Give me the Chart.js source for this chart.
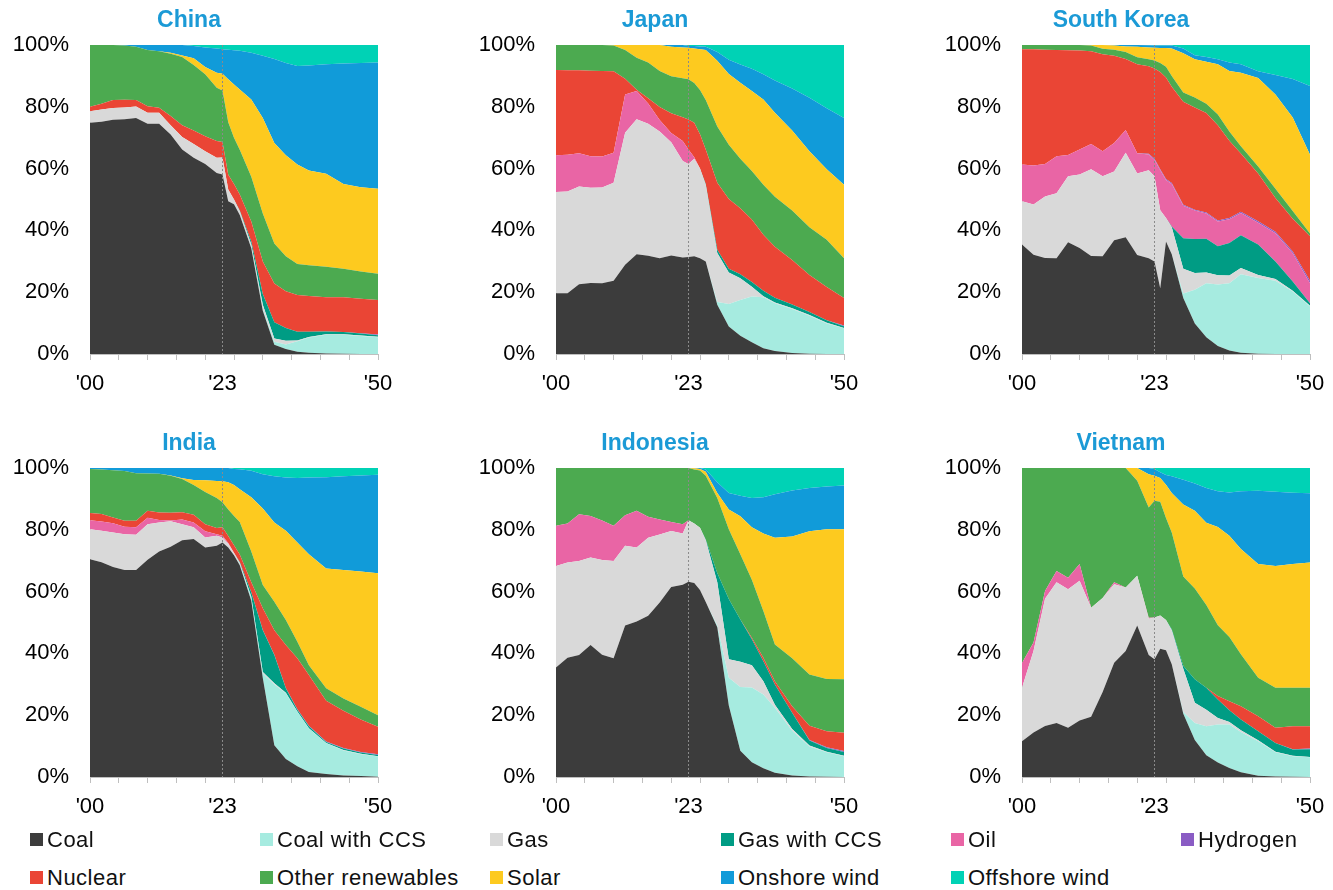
<!DOCTYPE html>
<html>
<head>
<meta charset="utf-8">
<script src="https://cdn.jsdelivr.net/npm/chart.js@4.4.0/dist/chart.umd.min.js"></script>
<style>
  body { margin: 0; background: #fff; font-family: "Liberation Sans", Arial, sans-serif; }
  #wrap { position: relative; width: 1333px; height: 890px; background: #fff; }
  #wrap canvas { position: absolute; }
  .key { position: absolute; font-size: 22px; letter-spacing: 0.5px; line-height: 26px; color: #111; white-space: nowrap; }
  .key i { display: inline-block; width: 13px; height: 13px; margin-right: 4px; vertical-align: 1px; }
</style>
</head>
<body>
<div id="wrap">
  <canvas id="c0" width="466" height="423" style="left:0px;top:0px"></canvas>
  <canvas id="c1" width="466" height="423" style="left:466px;top:0px"></canvas>
  <canvas id="c2" width="466" height="423" style="left:932px;top:0px"></canvas>
  <canvas id="c3" width="466" height="423" style="left:0px;top:423px"></canvas>
  <canvas id="c4" width="466" height="423" style="left:466px;top:423px"></canvas>
  <canvas id="c5" width="466" height="423" style="left:932px;top:423px"></canvas>
</div>

<script>
  // years shared by every panel
  const years = [2000, 2002, 2004, 2006, 2008, 2010, 2012, 2014, 2016, 2018, 2020, 2022, 2023,
    2024, 2025, 2026, 2028, 2030, 2032, 2034, 2036, 2038, 2041, 2044, 2047, 2050];

  // China (% of generation)
  const chinaCoal = [74.8, 75.2, 75.8, 76, 76.4, 74.5, 74.5, 71, 66.2, 63.5, 61.5, 58.6, 58.1, 49.4, 48.5, 45, 34.2, 14, 3, 1.6, 0.7, 0.4, 0.2, 0.1, 0, 0];
  const chinaCoalCcs = [0, 0, 0, 0, 0, 0, 0, 0, 0, 0, 0, 0, 0, 0, 0, 0, 0.2, 0.5, 1, 1.5, 3.4, 4.9, 6, 6.1, 5.8, 5.4];
  const chinaGas = [3.8, 3.9, 3.8, 3.8, 3.7, 3.6, 3.6, 3, 4, 4.5, 4.1, 4.9, 5.5, 3.8, 1.5, 1.2, 1, 1.4, 1, 1.2, 0.3, 0.2, 0.2, 0.2, 0.2, 0.2];
  const chinaGasCcs = [0, 0, 0, 0, 0, 0, 0, 0, 0, 0, 0, 0, 0, 0, 0, 0.2, 1, 3.5, 5.3, 4.1, 2.8, 1.7, 0.9, 0.7, 0.6, 0.5];
  const chinaOil = [0, 0, 0, 0, 0, 0, 0, 0, 0, 0, 0, 0, 0, 0, 0, 0, 0, 0, 0, 0, 0, 0, 0, 0, 0, 0];
  const chinaHydrogen = [0, 0, 0, 0, 0, 0, 0, 0, 0, 0, 0, 0, 0, 0, 0, 0, 0, 0, 0, 0, 0, 0, 0, 0, 0.1, 0.2];
  const chinaNuclear = [1.4, 1.9, 2.6, 2.5, 2.1, 2.1, 1.6, 3, 3.8, 4.3, 4.9, 5.4, 5, 4.8, 5, 5.2, 6.5, 10.5, 12.5, 11.9, 11.9, 11.6, 11.1, 11.3, 11.2, 11.2];
  const chinaOther = [20, 19, 17.8, 17.5, 17.2, 18.2, 18.3, 20.2, 22.1, 21.2, 20, 17.3, 16.7, 17, 15, 14.5, 14.5, 15.6, 13, 11.3, 10, 9.9, 9.8, 9.2, 8.8, 8.5];
  const chinaSolar = [0, 0, 0, 0, 0, 0, 0, 0.3, 0.5, 2.2, 2.4, 4.8, 5.4, 13.9, 17.2, 19.5, 25, 30.9, 32.5, 32.7, 32.2, 30.7, 30.1, 27.4, 27.3, 27.5];
  const chinaOnshore = [0, 0, 0, 0.2, 0.6, 1.6, 2, 2.5, 3.4, 4, 6.3, 7.9, 7.9, 9.6, 11.1, 12.5, 15.1, 20.1, 27.2, 29.9, 31.9, 34, 35.5, 39, 40.2, 40.8];
  const chinaOffshore = [0, 0, 0, 0, 0, 0, 0, 0, 0, 0.3, 0.8, 1.1, 1.4, 1.5, 1.7, 1.9, 2.5, 3.5, 4.5, 5.8, 6.8, 6.6, 6.2, 6, 5.8, 5.7];

  // Japan
  const japanCoal = [19.7, 19.7, 22.6, 23, 22.9, 23.7, 28.9, 32.3, 31.8, 31, 31.9, 31.2, 31.4, 31.6, 31, 29.9, 15.9, 8.9, 5.9, 3.8, 1.9, 1, 0.3, 0.1, 0, 0];
  const japanCoalCcs = [0, 0, 0, 0, 0, 0, 0, 0, 0, 0, 0, 0, 0, 0, 0, 0, 0.9, 7.3, 11.6, 14.8, 16.5, 15.4, 14.3, 12.3, 9.9, 8.3];
  const japanGas = [32.7, 32.9, 31.6, 30.8, 31, 31.7, 42.7, 43.7, 42.7, 41, 36.6, 31.3, 30.1, 31.6, 29, 24.8, 15.9, 10.2, 7, 3.2, 0.3, 0.3, 0.2, 0.2, 0.2, 0.1];
  const japanGasCcs = [0, 0, 0, 0, 0, 0, 0, 0, 0, 0, 0, 0, 0, 0, 0, 0.3, 1, 1.2, 1.3, 1.5, 1.8, 1.5, 1.2, 1, 0.8, 0.6];
  const japanOil = [11.9, 11.9, 10.8, 10.2, 10, 9.7, 12.4, 9.1, 6.6, 3.7, 3, 6.4, 4.7, 0.5, 0, 0, 0, 0, 0, 0, 0, 0, 0, 0, 0, 0];
  const japanHydrogen = [0, 0, 0, 0, 0, 0, 0, 0, 0, 0, 0, 0, 0, 0, 0, 0, 0, 0, 0, 0, 0, 0, 0, 0, 0, 0.2];
  const japanNuclear = [27.6, 27.3, 26.8, 27.7, 27.7, 26.4, 5.1, 0.4, 1.7, 4.2, 6.4, 7.7, 9.7, 11.1, 11.1, 11.2, 21.7, 22.6, 21.4, 20.2, 18.1, 16.5, 14.4, 12, 10.8, 8.9];
  const japanOther = [8.1, 8.2, 8.2, 8.3, 8.4, 8.3, 9.3, 10.4, 11.5, 11.7, 12, 12.6, 13, 12.9, 14.3, 16, 18.2, 17.5, 16, 15.7, 16.2, 16.2, 16, 15.4, 15.3, 12.9];
  const japanSolar = [0, 0, 0, 0, 0, 0.2, 1.6, 4.1, 5.7, 8.4, 9.5, 10, 10.2, 11.2, 13.2, 16.2, 21.3, 22.9, 24.6, 25.9, 27.6, 27.2, 25.9, 24.6, 22.8, 23.8];
  const japanOnshore = [0, 0, 0, 0, 0, 0, 0, 0, 0, 0, 0.6, 0.8, 0.6, 0.8, 0.9, 1, 2.8, 4.6, 5.9, 7.2, 8.1, 10.4, 13.6, 17.3, 19.7, 21.6];
  const japanOffshore = [0, 0, 0, 0, 0, 0, 0, 0, 0, 0, 0, 0, 0.3, 0.3, 0.5, 0.6, 2.3, 4.8, 6.3, 7.7, 9.5, 11.5, 14.1, 17.1, 20.5, 23.6];

  // South Korea
  const koreaCoal = [35.4, 32.1, 31.1, 31, 36.2, 34.3, 31.7, 31.6, 36.8, 37.8, 32, 31, 29.9, 21.3, 36.4, 32.3, 18.1, 9.9, 5.4, 2.6, 1.1, 0.4, 0.1, 0, 0, 0];
  const koreaCoalCcs = [0, 0, 0, 0, 0, 0, 0, 0, 0, 0, 0, 0, 0, 0, 0, 0, 1.5, 10.9, 17.5, 19.9, 21.8, 25.4, 24.5, 23.7, 20.2, 15.4];
  const koreaGas = [14, 16.3, 19.9, 21, 21.3, 23.8, 28.1, 25.9, 22.3, 27.3, 26.4, 28.5, 27.6, 25.2, 7.6, 8.7, 8, 5.4, 3.5, 3, 2.5, 2, 1, 0.6, 0.3, 0.2];
  const koreaGasCcs = [0, 0, 0, 0, 0, 0, 0, 0, 0, 0, 0, 0, 0, 0, 0, 0.3, 9.9, 11, 10.9, 9.4, 10.5, 10.6, 9.8, 5.6, 3, 0.8];
  const koreaOil = [11.9, 12.6, 10.5, 12, 6.9, 8.1, 8.2, 8.1, 9.2, 7.4, 6.6, 5.1, 5.4, 13, 12.3, 13.7, 10.5, 9.2, 8.2, 8, 7.7, 7.2, 7.1, 9.2, 9.1, 6.5];
  const koreaHydrogen = [0, 0, 0, 0, 0, 0, 0, 0, 0, 0, 0, 0.2, 0.3, 0.3, 0.3, 0.3, 0.3, 0.3, 0.3, 0.3, 0.4, 0.4, 0.5, 0.5, 0.6, 0.8];
  const koreaNuclear = [37.3, 37.6, 37, 34.4, 33.9, 32, 30, 31.4, 28.2, 23, 28.8, 28.3, 29.2, 31.5, 32.9, 31.2, 33.3, 33.1, 32.2, 30.8, 25, 18.9, 15.4, 10.9, 10.6, 14.4];
  const koreaOther = [1.4, 1.4, 1.5, 1.6, 1.7, 1.8, 1.8, 1.8, 2, 2.2, 2.2, 2.3, 2.6, 2.9, 3.5, 3.5, 3, 3.2, 3, 3.5, 3, 2.3, 2.3, 3, 2.5, 0.9];
  const koreaSolar = [0, 0, 0, 0, 0, 0, 0.2, 1.2, 1.3, 1.8, 3.4, 3.8, 4.1, 4.8, 6, 8.9, 12.7, 12.4, 13.6, 16.3, 19.6, 23.8, 28.6, 30.5, 30.2, 25.5];
  const koreaOnshore = [0, 0, 0, 0, 0, 0, 0, 0, 0.2, 0.5, 0.6, 0.7, 0.7, 0.8, 0.8, 0.9, 1.6, 1.3, 1.5, 1.6, 2.7, 2.8, 2.2, 6.3, 12.5, 22.2];
  const koreaOffshore = [0, 0, 0, 0, 0, 0, 0, 0, 0, 0, 0, 0.1, 0.2, 0.2, 0.2, 0.2, 1.1, 3.3, 3.9, 4.6, 5.7, 6.2, 8.5, 9.7, 11, 13.3];

  // India
  const indiaCoal = [70.5, 69.5, 68, 67, 67, 70.3, 73, 74.5, 76.6, 77, 74.3, 74.8, 75.9, 74.3, 71.8, 68.5, 57, 32, 10.3, 5.8, 3.5, 1.6, 1, 0.5, 0.3, 0.1];
  const indiaCoalCcs = [0, 0, 0, 0, 0, 0, 0, 0, 0, 0, 0, 0, 0, 0, 0, 0.3, 1, 1.5, 19.6, 21.3, 17.6, 14.1, 9.9, 8.1, 7.1, 6.5];
  const indiaGas = [9.7, 10.2, 11.1, 11.6, 11.4, 11.5, 9.4, 8.3, 5.2, 3.8, 3.2, 3.3, 1.6, 1.2, 0.7, 0.5, 0.3, 0.5, 0.4, 0.2, 0.1, 0.1, 0.1, 0.1, 0.1, 0.1];
  const indiaGasCcs = [0, 0, 0, 0, 0, 0, 0, 0, 0, 0, 0, 0, 0, 0, 0, 0.3, 1.5, 13.5, 9.2, 1.4, 0.6, 0.6, 0.3, 0.5, 0.4, 0.4];
  const indiaOil = [2.9, 3, 3, 2.4, 2.4, 2.1, 0.8, 0.2, 1.5, 1.6, 2, 0.5, 0.6, 0.2, 0.1, 0, 0, 0, 0, 0, 0, 0, 0, 0, 0, 0];
  const indiaHydrogen = [0, 0, 0, 0, 0, 0, 0, 0, 0, 0, 0, 0, 0, 0, 0, 0, 0, 0.1, 0.1, 0.1, 0.1, 0.2, 0.2, 0.2, 0.2, 0.3];
  const indiaNuclear = [2.3, 2.4, 1.9, 1.9, 2.1, 2.3, 2.4, 2.5, 2.4, 2.5, 2.3, 2, 2.7, 2.3, 2.4, 2.4, 3.2, 7, 7.9, 13.9, 16.5, 16.4, 13.2, 12, 10.5, 8.9];
  const indiaOther = [14.3, 14.4, 15.3, 16.1, 15.4, 12, 12.5, 12, 10.7, 9.6, 10.4, 9.7, 8.1, 8.6, 9.5, 10.5, 10, 7.5, 9.2, 8.1, 5.4, 3.2, 4, 4, 4.1, 3.7];
  const indiaSolar = [0, 0, 0, 0, 0, 0, 0, 0.1, 0.3, 1.6, 3.8, 5.5, 6.8, 8.8, 10, 10.6, 17.5, 24.8, 25.7, 28.9, 32.1, 35.9, 38.8, 41.6, 43.8, 45.9];
  const indiaOnshore = [0.3, 0.5, 0.7, 1, 1.7, 1.8, 1.9, 2.4, 3.3, 3.9, 4, 4.2, 4.3, 4.6, 5.2, 6.5, 8.6, 11.1, 14.9, 17.2, 20.9, 24.8, 29.5, 30.3, 31.1, 31.9];
  const indiaOffshore = [0, 0, 0, 0, 0, 0, 0, 0, 0, 0, 0, 0, 0, 0, 0.3, 0.4, 0.9, 2, 2.7, 3.1, 3.2, 3.1, 3, 2.7, 2.4, 2.2];

  // Indonesia
  const indoCoal = [35.4, 38.6, 39.5, 42.7, 39.6, 38.4, 49, 50.3, 52.2, 56.5, 61.5, 62.2, 63.2, 62.8, 60.5, 56.6, 48.5, 23.1, 8.5, 4.8, 2.8, 1.4, 0.5, 0.2, 0.1, 0];
  const indoCoalCcs = [0, 0, 0, 0, 0, 0, 0, 0, 0, 0, 0, 0, 0, 0, 0, 0, 0.5, 9, 20.6, 24.2, 23.9, 21, 14.5, 9.7, 7.9, 6.7];
  const indoGas = [32.9, 30.8, 30.4, 28.3, 30.6, 31.5, 25.8, 24, 25.2, 22, 18.1, 16.6, 19.9, 19.2, 20.2, 20, 14, 6, 8.2, 7.2, 4.3, 1, 0.5, 0.3, 0.2, 0.2];
  const indoGasCcs = [0, 0, 0, 0, 0, 0, 0, 0, 0, 0, 0, 0, 0, 0, 0, 0.3, 3, 19.5, 13.7, 8.4, 6.5, 6.5, 5.3, 1.6, 1.2, 1.2];
  const indoOil = [13, 12.6, 15.1, 13.5, 12.8, 11.4, 9.9, 11.9, 6.8, 4.8, 2.9, 3, 0, 0, 0, 0, 0, 0, 0, 0, 0, 0, 0, 0, 0, 0];
  const indoHydrogen = [0, 0, 0, 0, 0, 0, 0, 0, 0, 0, 0, 0, 0, 0, 0, 0, 0, 0, 0, 0, 0, 0, 0, 0.2, 0.2, 0.3];
  const indoNuclear = [0, 0, 0, 0, 0, 0, 0, 0, 0, 0, 0, 0, 0, 0, 0, 0, 0, 0, 0, 0.5, 1.1, 1.1, 2.1, 4.6, 5.2, 5.9];
  const indoOther = [18.7, 18, 15, 15.5, 17, 18.7, 15.3, 13.8, 15.8, 16.7, 17.5, 18.2, 16.9, 17.5, 18.5, 20.6, 24.3, 22.6, 21.1, 18.7, 15.1, 11.9, 15.5, 16.6, 16.9, 17.3];
  const indoSolar = [0, 0, 0, 0, 0, 0, 0, 0, 0, 0, 0, 0, 0, 0.4, 0.5, 1.3, 1.6, 6.4, 12.3, 17, 25.1, 34.5, 39.4, 46.3, 48.5, 48.6];
  const indoOnshore = [0, 0, 0, 0, 0, 0, 0, 0, 0, 0, 0, 0, 0, 0.1, 0.3, 0.7, 3.5, 5.3, 6.6, 9.5, 11.7, 14.1, 14.9, 14, 13.8, 14.1];
  const indoOffshore = [0, 0, 0, 0, 0, 0, 0, 0, 0, 0, 0, 0, 0, 0, 0, 0.5, 4.6, 8.1, 9, 9.7, 9.5, 8.5, 7.3, 6.5, 6, 5.7];

  // Vietnam
  const vietCoal = [11.6, 14.4, 16.5, 17.5, 15.9, 18.3, 19.5, 27.5, 37, 40.8, 49, 39.5, 38.1, 41.5, 41, 36.5, 20.5, 12, 7, 4.7, 2.9, 1.5, 0.4, 0.2, 0.1, 0];
  const vietCoalCcs = [0, 0, 0, 0, 0, 0, 0, 0, 0, 0, 0, 0, 0, 0, 0, 0, 0.5, 5.5, 9.4, 12.3, 14.1, 13.1, 11.2, 7.8, 6.6, 6.4];
  const vietGas = [17.3, 26.4, 41.2, 45.5, 44.9, 45.2, 35.3, 30.4, 25.4, 20.5, 16.1, 11.7, 13.5, 10.8, 9.8, 11, 14, 6.5, 5.4, 2.1, 0.8, 0.5, 0.3, 0.2, 0.2, 0.1];
  const vietGasCcs = [0, 0, 0, 0, 0, 0, 0, 0, 0, 0, 0, 0, 0, 0, 0, 0.3, 1, 7.6, 7.1, 6, 3.8, 3.5, 2.9, 2.8, 2, 2.5];
  const vietOil = [8, 2.7, 2.5, 3.7, 3.7, 5.4, 0, 0, 0.6, 0, 0, 0.3, 0, 0, 0, 0, 0, 0, 0, 0, 0, 0, 0, 0, 0, 0];
  const vietHydrogen = [0, 0, 0, 0, 0, 0, 0, 0, 0, 0, 0, 0, 0, 0, 0, 0, 0, 0, 0, 0, 0, 0, 0, 0, 0.1, 0.2];
  const vietNuclear = [0, 0, 0, 0, 0, 0, 0, 0, 0, 0, 0, 0, 0, 0, 0, 0, 0, 0, 0, 1.1, 2.9, 4.3, 4.9, 4.9, 7.4, 7.2];
  const vietOther = [63.1, 56.5, 39.8, 33.3, 35.5, 31.1, 45.2, 42.1, 37, 38.7, 30.8, 35.7, 37.8, 36.8, 33, 31.3, 28.9, 29.4, 26.8, 22.9, 20.8, 16.8, 12.4, 13, 12.5, 12.5];
  const vietSolar = [0, 0, 0, 0, 0, 0, 0, 0, 0, 0, 4.1, 10.8, 8.1, 7.7, 10.8, 12.8, 23.3, 25.2, 26.6, 31.8, 32.8, 34.1, 36.8, 39.4, 40, 40.5];
  const vietOnshore = [0, 0, 0, 0, 0, 0, 0, 0, 0, 0, 0, 2, 2.2, 1.8, 3.1, 5.4, 8, 8.8, 11.2, 11.6, 14, 18.7, 23.7, 24, 23.1, 22.4];
  const vietOffshore = [0, 0, 0, 0, 0, 0, 0, 0, 0, 0, 0, 0, 0.3, 1.4, 2.3, 2.7, 3.8, 5, 6.5, 7.5, 7.9, 7.5, 7.4, 7.7, 8, 8.2];

  const seriesNames = ['Coal', 'Coal with CCS', 'Gas', 'Gas with CCS', 'Oil', 'Hydrogen',
    'Nuclear', 'Other renewables', 'Solar', 'Onshore wind', 'Offshore wind'];
  const seriesColors = ['#3c3c3c', '#a6ebe0', '#d9d9d9', '#009c84', '#e965a5', '#8a5cc4',
    '#ea4535', '#4caa50', '#fdca1f', '#119bd9', '#00d2b5'];

  const countries = ['China', 'Japan', 'South Korea', 'India', 'Indonesia', 'Vietnam'];
  const countrySeries = [
    [chinaCoal, chinaCoalCcs, chinaGas, chinaGasCcs, chinaOil, chinaHydrogen, chinaNuclear, chinaOther, chinaSolar, chinaOnshore, chinaOffshore],
    [japanCoal, japanCoalCcs, japanGas, japanGasCcs, japanOil, japanHydrogen, japanNuclear, japanOther, japanSolar, japanOnshore, japanOffshore],
    [koreaCoal, koreaCoalCcs, koreaGas, koreaGasCcs, koreaOil, koreaHydrogen, koreaNuclear, koreaOther, koreaSolar, koreaOnshore, koreaOffshore],
    [indiaCoal, indiaCoalCcs, indiaGas, indiaGasCcs, indiaOil, indiaHydrogen, indiaNuclear, indiaOther, indiaSolar, indiaOnshore, indiaOffshore],
    [indoCoal, indoCoalCcs, indoGas, indoGasCcs, indoOil, indoHydrogen, indoNuclear, indoOther, indoSolar, indoOnshore, indoOffshore],
    [vietCoal, vietCoalCcs, vietGas, vietGasCcs, vietOil, vietHydrogen, vietNuclear, vietOther, vietSolar, vietOnshore, vietOffshore]
  ];

  const tickYears = [2000, 2005, 2010, 2015, 2020, 2023, 2025, 2030, 2035, 2040, 2045, 2050];
  const tickText = { 2000: "'00", 2023: "'23", 2050: "'50" };
  const lastActual = 2023;

  const font = "'Liberation Sans', Arial, sans-serif";
  const axisGrey = '#bfbfbf';

  // dotted line where history ends
  const markerLine = {
    id: 'markerLine',
    afterDatasetsDraw(chart) {
      const x = Math.round(chart.scales.x.getPixelForValue(lastActual)) + 0.5;
      const area = chart.chartArea;
      const ctx = chart.ctx;
      ctx.save();
      ctx.strokeStyle = '#8a8a8a';
      ctx.lineWidth = 1;
      ctx.setLineDash([2, 2]);
      ctx.beginPath();
      ctx.moveTo(x, area.top);
      ctx.lineTo(x, area.bottom);
      ctx.stroke();
      ctx.restore();
    }
  };

  countries.forEach((name, k) => {
    const series = countrySeries[k];
    const ctx = document.getElementById('c' + k).getContext('2d');
    new Chart(ctx, {
      type: 'line',
      data: {
        datasets: seriesNames.map((label, i) => ({
          label,
          data: years.map((yr, j) => ({ x: yr, y: series[i][j] })),
          backgroundColor: seriesColors[i],
          borderColor: 'rgba(0,0,0,0)',
          borderWidth: 0,
          pointRadius: 0,
          tension: 0,
          fill: i === 0 ? 'origin' : '-1'
        }))
      },
      options: {
        responsive: false,
        animation: false,
        events: [],
        layout: { padding: { left: 0, right: 88, top: 0, bottom: 0 } },
        plugins: {
          legend: { display: false },
          tooltip: { enabled: false },
          title: {
            display: true,
            text: name,
            color: '#1b9ad6',
            font: { family: font, size: 23, weight: 'bold' },
            padding: { top: 7, bottom: 10.4 }
          }
        },
        scales: {
          x: {
            type: 'linear',
            min: 2000,
            max: 2050,
            afterBuildTicks: s => { s.ticks = tickYears.map(v => ({ value: v })); },
            afterFit: s => { s.height = 69; },
            ticks: {
              autoSkip: false,
              maxRotation: 0,
              minRotation: 0,
              padding: 11,
              color: '#000',
              font: { family: font, size: 22 },
              callback: v => tickText[v] || ''
            },
            grid: {
              drawOnChartArea: false,
              tickLength: 6,
              color: c => (c.tick && c.tick.value === lastActual) ? 'rgba(0,0,0,0)' : axisGrey
            },
            border: { display: true, color: axisGrey }
          },
          y: {
            stacked: true,
            min: 0,
            max: 100,
            afterFit: s => { s.width = 90; },
            ticks: {
              stepSize: 20,
              padding: 21,
              color: '#000',
              font: { family: font, size: 22 },
              callback: v => v + '%'
            },
            grid: { display: false, drawTicks: false },
            border: { display: true, color: axisGrey }
          }
        }
      },
      plugins: [markerLine]
    });
  });

  // legend, two rows of six columns
  const legendX = [30, 260, 490, 721, 951, 1181];
  const legendY = [827, 865];
  const wrap = document.getElementById('wrap');
  seriesNames.forEach((label, i) => {
    const row = i < 6 ? 0 : 1;
    const col = i < 6 ? i : i - 6;
    const el = document.createElement('div');
    el.className = 'key';
    el.style.left = legendX[col] + 'px';
    el.style.top = legendY[row] + 'px';
    el.innerHTML = '<i style="background:' + seriesColors[i] + '"></i>' + label;
    wrap.appendChild(el);
  });
</script>
</body>
</html>
